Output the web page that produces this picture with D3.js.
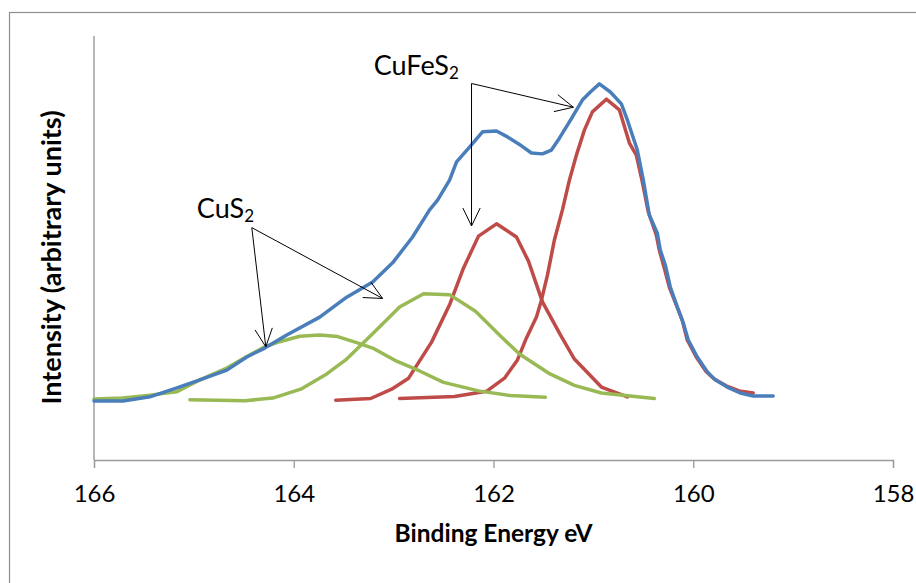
<!DOCTYPE html>
<html>
<head>
<meta charset="utf-8">
<script src="https://cdn.jsdelivr.net/npm/d3@7"></script>
<style>
  html, body { margin: 0; padding: 0; background: #fff; }
  svg { display: block; }
  text { font-family: Lato, "Open Sans", sans-serif; fill: #000; }
</style>
</head>
<body>
<script>
// S 2p spectrum: measured envelope and fitted components
const envelopeEnergy = [166.00, 165.71, 165.44, 165.17, 164.94, 164.67, 164.47, 164.29, 164.07, 163.74,
  163.47, 163.21, 163.01, 162.81, 162.64, 162.56, 162.44, 162.37, 162.24, 162.11, 161.97, 161.86, 161.72,
  161.62, 161.51, 161.42, 161.34, 161.26, 161.21, 161.11, 161.03, 160.94, 160.83, 160.72, 160.66, 160.56,
  160.50, 160.44, 160.36, 160.33, 160.28, 160.23, 160.16, 160.10, 160.05, 159.96, 159.86, 159.78, 159.66,
  159.53, 159.40, 159.20];
const envelopeIntensity = [13.9, 13.9, 14.9, 17.0, 18.9, 21.2, 24.3, 26.4, 29.5, 33.7,
  38.4, 42.0, 46.5, 52.6, 59.0, 61.3, 66.0, 70.3, 73.8, 77.4, 77.6, 76.2, 74.1,
  72.4, 72.2, 73.1, 75.9, 79.0, 80.9, 84.9, 86.8, 88.7, 86.8, 84.0, 80.2, 73.1,
  66.0, 57.8, 53.5, 49.5, 46.0, 40.8, 36.1, 32.3, 28.3, 24.3, 20.8, 18.9, 17.2,
  15.8, 15.1, 15.1];

// CuFeS2 component, low binding energy peak
const cufes2MainEnergy = [162.94, 162.39, 162.07, 161.89, 161.76, 161.67, 161.57, 161.52, 161.46, 161.39,
  161.31, 161.24, 161.17, 161.09, 161.01, 160.87, 160.74, 160.64, 160.57, 160.51, 160.45, 160.37, 160.34,
  160.29, 160.24, 160.17, 160.11, 160.06, 159.97, 159.87, 159.79, 159.67, 159.54, 159.40];
const cufes2MainIntensity = [14.5, 15.0, 16.2, 19.3, 23.6, 28.8, 33.7, 37.7, 43.6, 51.9,
  59.0, 66.0, 71.9, 77.8, 82.1, 85.1, 82.6, 74.8, 71.9, 65.6, 58.5, 53.1, 49.5,
  45.3, 40.8, 36.6, 33.0, 28.3, 24.3, 20.8, 19.1, 17.5, 16.3, 15.8];

// CuFeS2 component, spin-orbit partner
const cufes2SecondEnergy = [163.58, 163.23, 163.02, 162.85, 162.62, 162.44, 162.30, 162.15, 161.97, 161.77,
  161.65, 161.51, 161.33, 161.19, 160.92, 160.66];
const cufes2SecondIntensity = [14.1, 14.5, 16.7, 19.3, 27.8, 36.6, 45.3, 52.8, 55.7, 52.6,
  46.9, 37.3, 29.5, 23.8, 17.2, 14.9];

// CuS2 component, high binding energy peak
const cus2HighEnergy = [166.00, 165.71, 165.44, 165.17, 164.94, 164.67, 164.47, 164.29, 164.14, 163.94,
  163.74, 163.56, 163.37, 163.21, 162.97, 162.74, 162.50, 162.15, 161.83, 161.48];
const cus2HighIntensity = [14.4, 14.6, 15.3, 16.1, 18.9, 21.7, 24.4, 26.7, 27.9, 29.2,
  29.5, 29.1, 27.7, 26.4, 23.3, 21.0, 18.3, 16.3, 15.2, 14.8];

// CuS2 component, lower binding energy peak
const cus2LowEnergy = [165.04, 164.49, 164.21, 163.93, 163.67, 163.48, 163.20, 162.94, 162.70, 162.44,
  162.18, 161.92, 161.74, 161.45, 161.19, 160.92, 160.39];
const cus2LowIntensity = [14.2, 14.0, 14.6, 16.7, 20.3, 23.6, 30.0, 36.1, 39.2, 39.0,
  35.1, 29.0, 25.0, 20.5, 17.6, 15.8, 14.5];

const xTicks = [166, 164, 162, 160, 158];
const xTitle = "Binding Energy eV";
const yTitle = "Intensity (arbitrary units)";

// Annotations: label anchor [energy, intensity] and arrow tips
const cufes2Label = { text: "CuFeS", sub: "2", at: [163.20, 90.8], from: [162.22, 88.8],
  tips: [[161.20, 83.2], [162.22, 55.2]] };
const cus2Label = { text: "CuS", sub: "2", at: [164.97, 57.0], from: [164.42, 54.8],
  tips: [[164.28, 26.7], [163.11, 38.1]] };

const W = 916, H = 583;
const plot = { left: 94, right: 893, top: 36, bottom: 460 };

const svg = d3.select("body").append("svg").attr("width", W).attr("height", H);

// chart frame
svg.append("rect").attr("x", 9.5).attr("y", 12.5).attr("width", 1000).attr("height", 1000)
  .attr("fill", "none").attr("stroke", "#8e8e8e").attr("stroke-width", 1.2);

const x = d3.scaleLinear().domain([166, 158]).range([plot.left, plot.right]);
const y = d3.scaleLinear().domain([0, 100]).range([plot.bottom, plot.top]);

// y axis (no ticks)
svg.append("line").attr("x1", plot.left).attr("x2", plot.left)
  .attr("y1", plot.top).attr("y2", plot.bottom)
  .attr("stroke", "#a6a6a6").attr("stroke-width", 1.6);

// x axis
const xAxis = svg.append("g").attr("transform", `translate(0,${plot.bottom})`)
  .call(d3.axisBottom(x).tickValues(xTicks).tickFormat(d3.format("d")).tickSize(8).tickPadding(17));
xAxis.select(".domain").attr("stroke", "#9a9a9a").attr("stroke-width", 1.3);
xAxis.selectAll(".tick line").attr("stroke", "#9a9a9a").attr("stroke-width", 1.3);
xAxis.selectAll(".tick text").style("font-family", "Lato, sans-serif").style("font-size", "24px").attr("fill", "#000");

// axis titles
svg.append("text").attr("x", (plot.left + plot.right) / 2).attr("y", 542)
  .attr("text-anchor", "middle").style("font-weight", "bold").style("font-size", "24.5px").text(xTitle);
svg.append("text").attr("transform", `translate(61,${(110 + 405) / 2}) rotate(-90)`)
  .attr("text-anchor", "middle").style("font-weight", "bold").style("font-size", "27px").text(yTitle);

const line = d3.line().x(d => x(d[0])).y(d => y(d[1]));
const series = [
  { e: cufes2MainEnergy, v: cufes2MainIntensity, color: "#BE4B48" },
  { e: cufes2SecondEnergy, v: cufes2SecondIntensity, color: "#BE4B48" },
  { e: cus2HighEnergy, v: cus2HighIntensity, color: "#98B954" },
  { e: cus2LowEnergy, v: cus2LowIntensity, color: "#98B954" },
  { e: envelopeEnergy, v: envelopeIntensity, color: "#4A7EBB" }
];
svg.append("g").selectAll("path").data(series).join("path")
  .attr("d", s => line(s.e.map((e, i) => [e, s.v[i]])))
  .attr("fill", "none").attr("stroke", s => s.color)
  .attr("stroke-width", 3.5).attr("stroke-linejoin", "round").attr("stroke-linecap", "round");

// labels with open arrowheads
function annotate(a) {
  const t = svg.append("text").attr("x", x(a.at[0])).attr("y", y(a.at[1])).style("font-size", "27px");
  t.append("tspan").text(a.text);
  t.append("tspan").attr("dy", 4).style("font-size", "17px").text(a.sub);
  const fx = x(a.from[0]), fy = y(a.from[1]);
  a.tips.forEach(tp => {
    const tx = x(tp[0]), ty = y(tp[1]);
    svg.append("line").attr("x1", fx).attr("y1", fy).attr("x2", tx).attr("y2", ty)
      .attr("stroke", "#000").attr("stroke-width", 1);
    const ang = Math.atan2(ty - fy, tx - fx), len = 20, spread = 0.45;
    const p = [-spread, spread].map(s => [tx - len * Math.cos(ang + s), ty - len * Math.sin(ang + s)]);
    svg.append("path").attr("d", `M${p[0][0]},${p[0][1]}L${tx},${ty}L${p[1][0]},${p[1][1]}`)
      .attr("fill", "none").attr("stroke", "#000").attr("stroke-width", 1);
  });
}
annotate(cufes2Label);
annotate(cus2Label);
</script>
</body>
</html>
